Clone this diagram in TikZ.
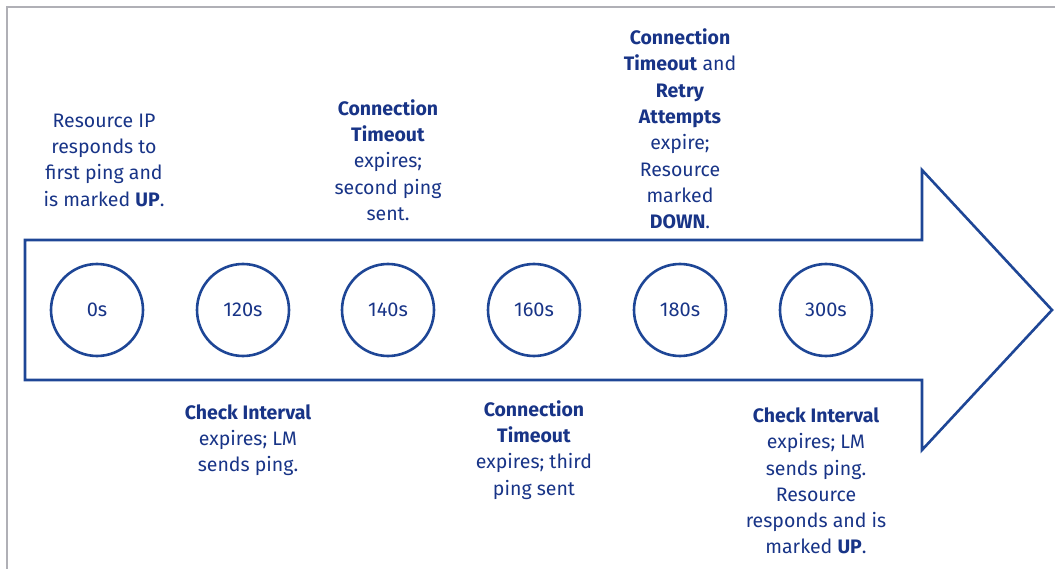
\documentclass[tikz,border=0pt]{standalone}
\usepackage{fontspec}
\setmainfont{Fira Sans}
\definecolor{lmblue}{RGB}{30,70,150}
\definecolor{lmtext}{RGB}{24,52,135}
\definecolor{framegray}{RGB}{176,176,182}
\begin{document}
\begin{tikzpicture}[x=1pt,y=-1pt]

% Styles for the time stamps and the notes
\tikzset{stamp/.style={circle, draw=lmblue, line width=2.6pt, minimum size=92pt, inner sep=0pt,
                       text=lmtext, font=\fontsize{20}{22}\selectfont},
         note/.style={text=lmtext, align=center, inner sep=0pt,
                      font=\fontsize{19.5}{26.3}\selectfont}}

% Define dimensions
\def\cy{310}      % Height of the row of circles
\def\bt{240}      % Top of the arrow body
\def\bb{380}      % Bottom of the arrow body
\def\hx{922}      % Where the arrow head starts

\useasboundingbox (0,0) rectangle (1055,569);

% Grey frame round the picture (only top and left show)
\draw [framegray, line width=2.5pt] (7,569) -- (7,7) -- (1055,7);

% The big arrow
\draw [lmblue, line width=2.6pt, line join=miter]
      (25,\bt) -- (\hx,\bt) -- (\hx,170) -- (1052,\cy) -- (\hx,450) -- (\hx,\bb) -- (25,\bb) -- cycle;

% Time stamps along the arrow
\node [stamp] (c0)   at (97,\cy)  {0s};
\node [stamp] (c120) at (243,\cy) {120s};
\node [stamp] (c140) at (388,\cy) {140s};
\node [stamp] (c160) at (534,\cy) {160s};
\node [stamp] (c180) at (680,\cy) {180s};
\node [stamp] (c300) at (826,\cy) {300s};

% Notes above the arrow
\node [note] (n0) at (104,160)
      {Resource IP\\responds to\\first ping and\\is marked \textbf{UP}.};
\node [note] (n140) at (388,160)
      {\textbf{Connection}\\\textbf{Timeout}\\expires;\\second ping\\sent.};
\node [note] (n180) at (680,129)
      {\textbf{Connection}\\\textbf{Timeout} and\\\textbf{Retry}\\\textbf{Attempts}\\expire;\\Resource\\marked\\\textbf{DOWN}.};

% Notes below the arrow
\node [note] (n120) at (248,440)
      {\textbf{Check Interval}\\expires; LM\\sends ping.};
\node [note] (n160) at (534,450)
      {\textbf{Connection}\\\textbf{Timeout}\\expires; third\\ping sent};
\node [note] (n300) at (816,481)
      {\textbf{Check Interval}\\expires; LM\\sends ping.\\Resource\\responds and is\\marked \textbf{UP}.};

\end{tikzpicture}
\end{document}
